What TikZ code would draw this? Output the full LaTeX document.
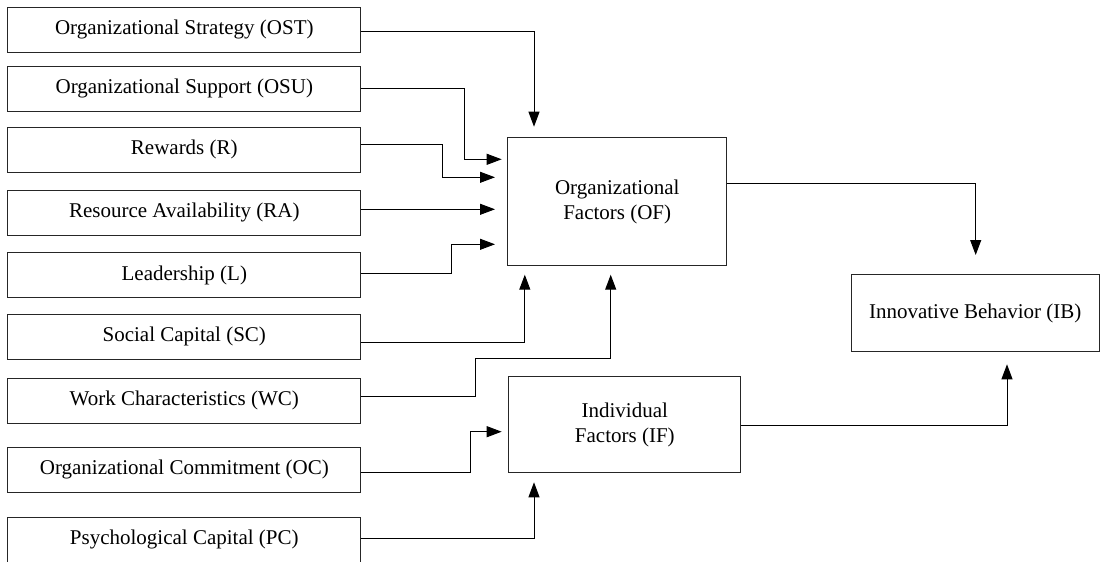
\documentclass[tikz,border=0pt]{standalone}
\usepackage{fontspec}
\setmainfont{Liberation Serif}
\usetikzlibrary{arrows.meta}

\begin{document}
\begin{tikzpicture}
            [every node/.style={inner sep=0pt},
             factor/.style={rectangle, minimum width=353.3pt, minimum height=45pt, line width=1pt, draw=black!85, font=\fontsize{21pt}{25pt}\selectfont},
             construct/.style={rectangle, align=center, line width=1pt, draw=black!85, font=\fontsize{21pt}{25pt}\selectfont},
             link/.style={line width=1pt, color=black, -{Triangle[length=15pt, width=11pt]}}]
                \useasboundingbox (0pt, 0pt) rectangle (1101pt, -562pt);
                \node (ost) [factor] at (184.3pt, -29.8pt) {Organizational Strategy (OST)};
                \node (osu) [factor] at (184.3pt, -88.5pt) {Organizational Support (OSU)};
                \node (r) [factor] at (184.3pt, -149.8pt) {Rewards (R)};
                \node (ra) [factor] at (184.3pt, -212.8pt) {Resource Availability (RA)};
                \node (l) [factor] at (184.3pt, -275.2pt) {Leadership (L)};
                \node (sc) [factor] at (184.3pt, -336.8pt) {Social Capital (SC)};
                \node (wc) [factor] at (184.3pt, -400.8pt) {Work Characteristics (WC)};
                \node (oc) [factor] at (184.3pt, -469.8pt) {Organizational Commitment (OC)};
                \node (pc) [factor] at (184.3pt, -539.5pt) {Psychological Capital (PC)};
                \node (of) [construct, minimum width=218.5pt, minimum height=128.4pt] at (617.2pt, -201.5pt) {Organizational\\Factors (OF)};
                \node (if) [construct, minimum width=231.7pt, minimum height=95.6pt] at (624.8pt, -424.5pt) {Individual\\Factors (IF)};
                \node (ib) [construct, minimum width=248.3pt, minimum height=77.5pt] at (975.2pt, -313.2pt) {Innovative Behavior (IB)};
                \coordinate (ost-end) at (534pt, -126.7pt);
                \coordinate (osu-end) at (501.7pt, -159.3pt);
                \coordinate (r-end) at (495pt, -177.3pt);
                \coordinate (ra-end) at (495pt, -209.3pt);
                \coordinate (l-end) at (495pt, -244.3pt);
                \coordinate (sc-end) at (524.8pt, -274.7pt);
                \coordinate (wc-end) at (610.7pt, -274.7pt);
                \coordinate (oc-end) at (501.7pt, -431.7pt);
                \coordinate (pc-end) at (534pt, -482.3pt);
                \coordinate (of-end) at (975.7pt, -255pt);
                \coordinate (if-end) at (1007pt, -364.3pt);
                \draw [link] ([yshift=-1.2pt]ost.east) -| (ost-end);
                \draw [link] ([yshift=0.2pt]osu.east) -- ++(103.3pt, 0pt) |- (osu-end);
                \draw [link] ([yshift=5.5pt]r.east) -- ++(80.7pt, 0pt) |- (r-end);
                \draw [link] ([yshift=3.5pt]ra.east) -- (ra-end);
                \draw [link] ([yshift=1.5pt]l.east) -- ++(89.7pt, 0pt) |- (l-end);
                \draw [link] ([yshift=-5.5pt]sc.east) -| (sc-end);
                \draw [link] ([yshift=4.3pt]wc.east) -- ++(114pt, 0pt) -- ++(0pt, 38pt) -| (wc-end);
                \draw [link] ([yshift=-2.7pt]oc.east) -- ++(109pt, 0pt) |- (oc-end);
                \draw [link] ([yshift=0.8pt]pc.east) -| (pc-end);
                \draw [link] ([yshift=18.2pt]of.east) -| (of-end);
                \draw [link] ([yshift=-0.8pt]if.east) -| (if-end);
            \end{tikzpicture}
\end{document}
